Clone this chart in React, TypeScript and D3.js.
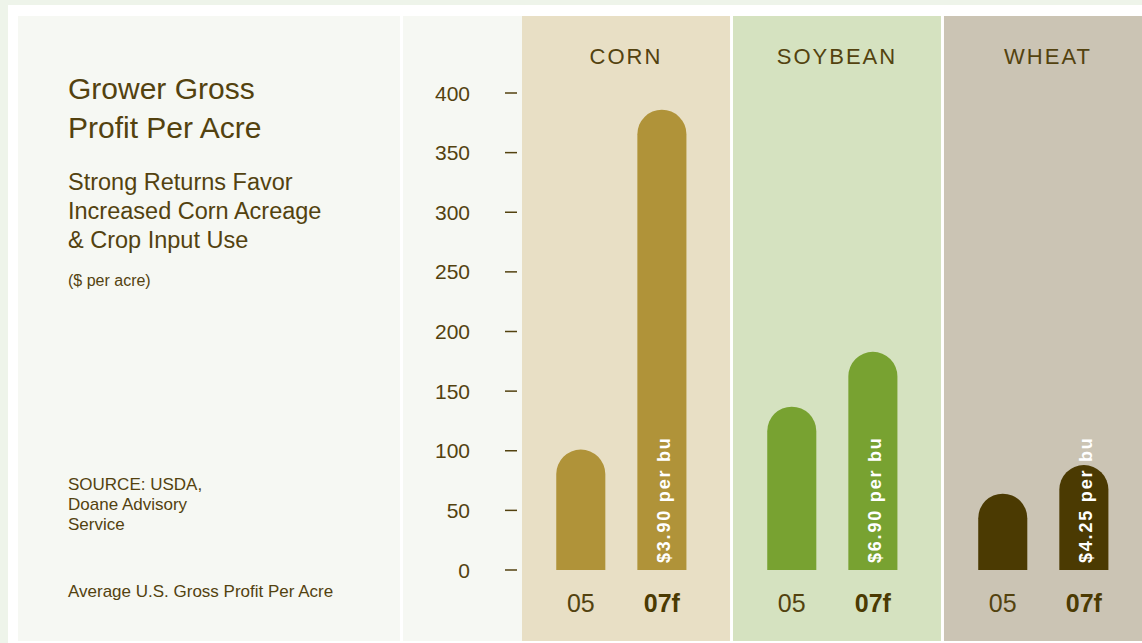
import React from "react";
import * as d3 from "d3";

const crops = ["CORN", "SOYBEAN", "WHEAT"];
const years = ["05", "07f"];
const values05 = [101, 137, 64];
const values07f = [386, 183, 88];
const priceLabels = ["$3.90 per bu", "$6.90 per bu", "$4.25 per bu"];
const yTicks = [0, 50, 100, 150, 200, 250, 300, 350, 400];
const panelColors = ["#e8dfc5", "#d5e2c0", "#cbc4b4"];
const barColors = ["#b09339", "#78a231", "#4b3a02"];

const W = 1142;
const H = 643;
const TXT = "#53420f";
const FONT = "'Liberation Sans', Arial, sans-serif";

export default function App() {
  const y = d3.scaleLinear().domain([0, 400]).range([570, 93]);
  const xGroup = d3.scaleBand<string>().domain(crops).range([522, 1152]).paddingInner(0.014);
  const gw = xGroup.bandwidth();
  const xYear = d3
    .scaleBand<string>()
    .domain(years)
    .range([0, gw])
    .paddingInner(0.395)
    .paddingOuter(0.48)
    .align(0.44);
  const bw = xYear.bandwidth();

  const barPath = (x: number, v: number) => {
    const r = bw / 2;
    const top = y(v);
    const base = y(0);
    const p = d3.path();
    p.moveTo(x, base);
    p.lineTo(x, top + r);
    p.arc(x + r, top + r, r, Math.PI, 0);
    p.lineTo(x + bw, base);
    p.closePath();
    return p.toString();
  };

  return (
    <svg
      width={W}
      height={H}
      style={{ position: "absolute", left: 0, top: 0, fontFamily: FONT }}
    >
      <rect x={0} y={0} width={W} height={H} fill="#eef4ea" />
      <rect x={8} y={5} width={W - 8} height={H - 5} fill="#ffffff" />
      <rect x={18} y={16} width={382} height={625} fill="#f6f8f3" />
      <rect x={403} y={16} width={119} height={625} fill="#f6f8f3" />

      {/* Title block */}
      <g fill={TXT}>
        <text x={68} y={99} fontSize={30}>Grower Gross</text>
        <text x={68} y={138} fontSize={30}>Profit Per Acre</text>
        <text x={68} y={190} fontSize={23.5}>Strong Returns Favor</text>
        <text x={68} y={219} fontSize={23.5}>Increased Corn Acreage</text>
        <text x={68} y={248} fontSize={23.5}>&amp; Crop Input Use</text>
        <text x={68} y={286} fontSize={16}>($ per acre)</text>
        <text x={68} y={490} fontSize={17}>SOURCE: USDA,</text>
        <text x={68} y={510} fontSize={17}>Doane Advisory</text>
        <text x={68} y={530} fontSize={17}>Service</text>
        <text x={68} y={597} fontSize={17}>Average U.S. Gross Profit Per Acre</text>
      </g>

      {/* Y axis */}
      <g>
        {yTicks.map((t) => (
          <g key={t}>
            <text
              x={470}
              y={y(t)}
              dy="0.36em"
              textAnchor="end"
              fontSize={21}
              fill={TXT}
            >
              {t}
            </text>
            <line x1={505} x2={517} y1={y(t)} y2={y(t)} stroke={TXT} strokeWidth={1.5} />
          </g>
        ))}
      </g>

      {/* Crop panels */}
      {crops.map((c, i) => {
        const gx = xGroup(c)!;
        const vals = [values05[i], values07f[i]];
        return (
          <g key={c}>
            <rect x={gx} y={16} width={gw} height={625} fill={panelColors[i]} />
            <text
              x={gx + gw / 2}
              y={64}
              textAnchor="middle"
              fontSize={22}
              letterSpacing={2}
              fill={TXT}
            >
              {c}
            </text>
            {years.map((yr, j) => {
              const bx = gx + xYear(yr)!;
              return (
                <g key={yr}>
                  <path d={barPath(bx, vals[j])} fill={barColors[i]} />
                  <text
                    x={bx + bw / 2}
                    y={612}
                    textAnchor="middle"
                    fontSize={25}
                    fontWeight={j === 1 ? "bold" : "normal"}
                    fill={j === 1 ? "#4b3a02" : TXT}
                  >
                    {yr}
                  </text>
                </g>
              );
            })}
            <text
              transform={`translate(${gx + xYear("07f")! + bw / 2 + 8},${y(0) - 7}) rotate(-90)`}
              fontSize={18}
              fontWeight="bold"
              letterSpacing={1.8}
              fill="#ffffff"
            >
              {priceLabels[i]}
            </text>
          </g>
        );
      })}
    </svg>
  );
}
